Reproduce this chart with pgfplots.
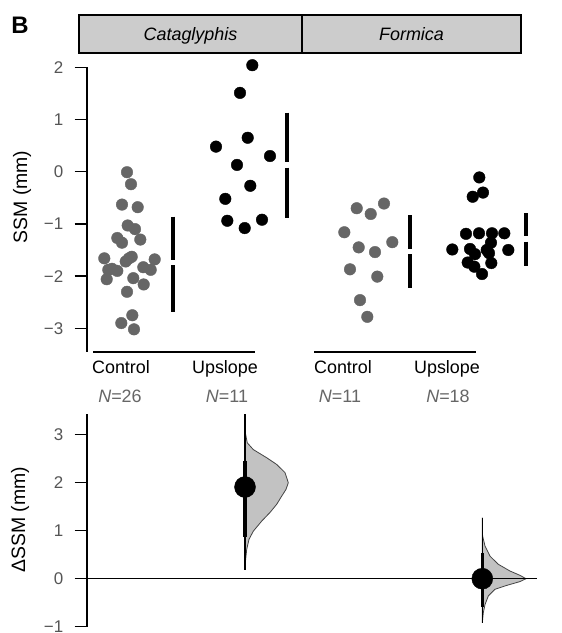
\documentclass[border=0pt]{standalone}
\usepackage{pgfplots}
\pgfplotsset{compat=1.18}
\usepackage{fontspec}
\setmainfont{Liberation Sans}
\definecolor{ptgray}{HTML}{666666}
\definecolor{tickgray}{HTML}{555555}
\definecolor{hdrgray}{HTML}{CCCCCC}
\definecolor{violgray}{HTML}{C2C2C2}
\definecolor{outgray}{HTML}{444444}
\newcommand{\tickfont}{\fontsize{17}{19}\selectfont}
\newcommand{\labfont}{\fontsize{18}{20}\selectfont}
\newcommand{\ylabfont}{\fontsize{19.5}{22}\selectfont}
\begin{document}
\begin{tikzpicture}[x=1bp,y=1bp]
\useasboundingbox (0,0) rectangle (562,633);
% ---------------- top panel ----------------
\begin{axis}[
  at={(86.7bp,281.2bp)}, anchor=south west,
  x=1bp, y=52.2bp,
  xmin=86.7, xmax=540, ymin=-3.45, ymax=2,
  axis x line=none, axis y line*=left,
  clip=false,
  axis line style={line width=1.6bp},
  ytick={-3,-2,-1,0,1,2},
  yticklabels={−3,−2,−1,0,1,2},
  tick align=outside, major tick length=12bp,
  tick style={line width=1.4bp, black},
  yticklabel style={font=\tickfont, text=tickgray, xshift=-8bp},
]
% Cataglyphis control
\addplot[only marks, mark=*, mark size=5.8bp, mark options={fill=ptgray, draw=ptgray}] coordinates {
(127,-0.01)(131,-0.24)(122,-0.63)(137.7,-0.68)(127.7,-1.03)(135,-1.10)(117.3,-1.27)(122,-1.36)
(140.3,-1.30)(104.3,-1.66)(131.7,-1.63)(125.7,-1.72)(154.7,-1.68)(108.3,-1.88)(117.3,-1.90)
(143.3,-1.83)(150.7,-1.88)(106.7,-2.06)(133.3,-2.04)(143.7,-2.16)(127,-2.30)(132.3,-2.75)
(121.3,-2.90)(134,-3.02)(112,-1.86)(129,-1.66)};
% Cataglyphis upslope
\addplot[only marks, mark=*, mark size=5.8bp, mark options={fill=black, draw=black}] coordinates {
(252.3,2.04)(240,1.51)(216,0.48)(247.7,0.65)(270,0.30)(237,0.13)(250.3,-0.27)(225.3,-0.52)
(227.3,-0.94)(262,-0.92)(244.7,-1.08)};
% Formica control
\addplot[only marks, mark=*, mark size=5.8bp, mark options={fill=ptgray, draw=ptgray}] coordinates {
(356.7,-0.70)(370.7,-0.81)(384,-0.61)(344.3,-1.16)(392.3,-1.35)(358.7,-1.45)(375,-1.54)
(350,-1.87)(377.3,-2.01)(360,-2.46)(367.3,-2.78)};
% Formica upslope
\addplot[only marks, mark=*, mark size=5.8bp, mark options={fill=black, draw=black}] coordinates {
(479.3,-0.11)(483,-0.40)(472.7,-0.48)(466,-1.19)(479,-1.18)(492,-1.18)(504.3,-1.18)(491,-1.36)
(452.3,-1.49)(470,-1.48)(486.7,-1.50)(508.3,-1.50)(475,-1.58)(489,-1.56)(467.7,-1.74)
(491.3,-1.75)(474.3,-1.82)(482,-1.96)};
% mean +- SD gapped lines
\addplot[line width=4bp, black, forget plot] coordinates {(172.7,-0.86)(172.7,-1.69)};
\addplot[line width=4bp, black, forget plot] coordinates {(172.7,-1.79)(172.7,-2.69)};
\addplot[line width=4bp, black, forget plot] coordinates {(287.3,1.13)(287.3,0.18)};
\addplot[line width=4bp, black, forget plot] coordinates {(287.3,0.08)(287.3,-0.88)};
\addplot[line width=4bp, black, forget plot] coordinates {(410.3,-0.83)(410.3,-1.48)};
\addplot[line width=4bp, black, forget plot] coordinates {(410.3,-1.58)(410.3,-2.22)};
\addplot[line width=4bp, black, forget plot] coordinates {(525.7,-0.80)(525.7,-1.24)};
\addplot[line width=4bp, black, forget plot] coordinates {(525.7,-1.34)(525.7,-1.80)};
\end{axis}
% ---------------- bottom panel ----------------
\begin{axis}[
  at={(86.7bp,6.3bp)}, anchor=south west,
  x=1bp, y=48bp,
  xmin=86.7, xmax=540, ymin=-1, ymax=3.43,
  axis x line=none, axis y line*=left,
  clip=false,
  axis line style={line width=1.6bp},
  ytick={-1,0,1,2,3},
  yticklabels={−1,0,1,2,3},
  tick align=outside, major tick length=12bp,
  tick style={line width=1.4bp, black},
  yticklabel style={font=\tickfont, text=tickgray, xshift=-8bp},
]
\addplot[line width=1.1bp, black] coordinates {(86.7,0)(536.7,0)};
% Cataglyphis difference distribution
\addplot[fill=violgray, draw=outgray, line width=0.8bp] coordinates {
(245,3.43)(245.3,3.04)(247.3,2.83)(253.3,2.69)(266.7,2.52)(276.7,2.38)(285,2.21)(288.3,2.00)
(286,1.86)(281.7,1.72)(276.7,1.55)(270,1.38)(261.7,1.20)(253.3,0.99)(249,0.82)(246.7,0.61)
(245.3,0.33)(245,0.19)} -- cycle;
\addplot[line width=1.3bp, black] coordinates {(245,3.43)(245,0.19)};
\addplot[line width=3.5bp, black] coordinates {(245,2.46)(245,0.87)};
\addplot[only marks, mark=*, mark size=10.5bp, mark options={fill=black, draw=black}] coordinates {(245,1.91)};
% Formica difference distribution
\addplot[fill=violgray, draw=outgray, line width=0.8bp] coordinates {
(482.3,1.27)(482.6,0.89)(485,0.68)(490,0.47)(498.3,0.30)(510,0.16)(520,0.07)(526,0.00)
(520,-0.06)(506.7,-0.14)(495,-0.22)(488.3,-0.36)(485,-0.54)(483.3,-0.71)(482.3,-0.92)} -- cycle;
\addplot[line width=1.1bp, black] coordinates {(482.3,0)(536.7,0)};
\addplot[line width=1.3bp, black] coordinates {(482.3,1.27)(482.3,-0.92)};
\addplot[line width=3.5bp, black] coordinates {(482.3,0.54)(482.3,-0.60)};
\addplot[only marks, mark=*, mark size=10.5bp, mark options={fill=black, draw=black}] coordinates {(482.3,0)};
\end{axis}
% ---------------- annotations ----------------
\node[font=\fontsize{24}{26}\selectfont\bfseries] at (20,608) {B};
\draw[fill=hdrgray, line width=1.2bp] (79,580) rectangle (521,618);
\draw[line width=1.6bp] (302,580) -- (302,618);
\node[font=\labfont\itshape, anchor=base] at (190.5,592.3) {Cataglyphis};
\node[font=\labfont\itshape, anchor=base] at (411.5,592.3) {Formica};
\draw[line width=1.8bp] (93,281) -- (255,281);
\draw[line width=1.8bp] (314,281) -- (476,281);
\node[font=\labfont, anchor=base] at (121,259) {Control};
\node[font=\labfont, anchor=base] at (225,259) {Upslope};
\node[font=\labfont, anchor=base] at (343,259) {Control};
\node[font=\labfont, anchor=base] at (447,259) {Upslope};
\node[font=\labfont, text=ptgray, anchor=base] at (120,230.5) {\textit{N}=26};
\node[font=\labfont, text=ptgray, anchor=base] at (227,230.5) {\textit{N}=11};
\node[font=\labfont, text=ptgray, anchor=base] at (340,230.5) {\textit{N}=11};
\node[font=\labfont, text=ptgray, anchor=base] at (448,230.5) {\textit{N}=18};
\node[font=\ylabfont, rotate=90] at (22,436) {SSM (mm)};
\node[font=\ylabfont, rotate=90] at (20,113) {ΔSSM (mm)};
\end{tikzpicture}
\end{document}
